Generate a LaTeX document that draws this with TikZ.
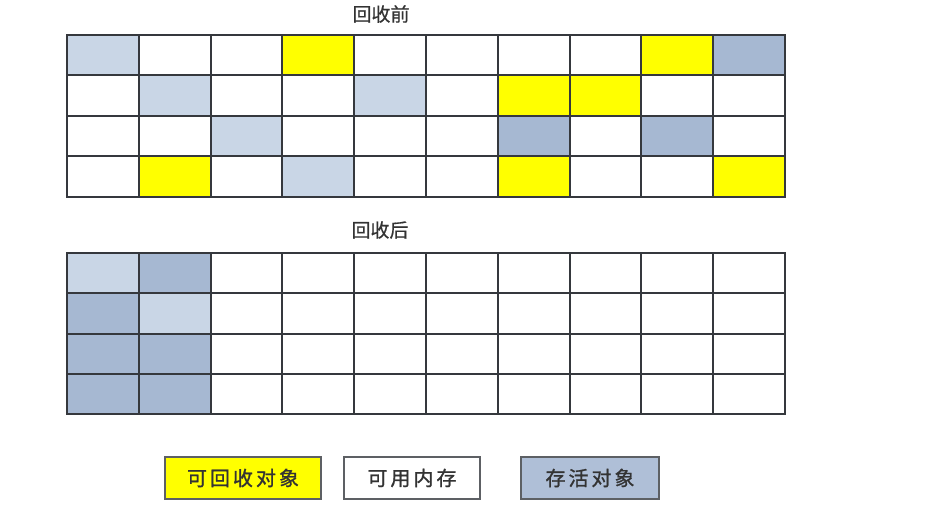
\documentclass[tikz,border=0pt]{standalone}
\usepackage{fontspec}
\newfontfamily\cjk{Noto Sans CJK SC}
\definecolor{recyc}{HTML}{FFFF00}
\definecolor{alivelight}{HTML}{C9D6E6}
\definecolor{alivedark}{HTML}{A6B8D2}
\definecolor{gridline}{HTML}{35383D}
\definecolor{legendtext}{HTML}{333333}
\tikzset{
  cellbox/.style={draw=gridline, line width=1pt},
  heading/.style={font=\cjk\fontsize{9.5}{11}\selectfont\addfontfeature{FakeBold=0.6}, text=legendtext},
  legendbox/.style={draw=gridline!80, line width=0.8pt, minimum width=78pt,
    minimum height=21pt, inner sep=0pt, text=legendtext,
    font=\cjk\fontsize{10}{12}\selectfont\addfontfeature{LetterSpace=15,FakeBold=1.2}}
}
\begin{document}
\begin{tikzpicture}[x=5pt,y=5pt]
    \useasboundingbox (0,0) rectangle (93.4,-51.2);

    % before collection
    \node[heading] (before) at (38.1,-1.4) {回收前};
    \foreach \c/\r/\col in {0/0/alivelight, 3/0/recyc, 8/0/recyc, 9/0/alivedark,
                           1/1/alivelight, 4/1/alivelight, 6/1/recyc, 7/1/recyc,
                           2/2/alivelight, 6/2/alivedark, 8/2/alivedark,
                           1/3/recyc, 3/3/alivelight, 6/3/recyc, 9/3/recyc} {
      \fill[\col] (6.7+\c*7.18,-3.5-\r*4.05) rectangle ++(7.18,-4.05);
    }
    \foreach \c in {0, ..., 9} {
      \foreach \r in {0, ..., 3} {
        \draw[cellbox] (6.7+\c*7.18,-3.5-\r*4.05) rectangle ++(7.18,-4.05);
      }
    }

    % after collection
    \node[heading] (after) at (38.0,-23.0) {回收后};
    \foreach \c/\r/\col in {0/0/alivelight, 1/0/alivedark, 0/1/alivedark, 1/1/alivelight,
                           0/2/alivedark, 1/2/alivedark, 0/3/alivedark, 1/3/alivedark} {
      \fill[\col] (6.7+\c*7.18,-25.3-\r*4.03) rectangle ++(7.18,-4.03);
    }
    \foreach \c in {0, ..., 9} {
      \foreach \r in {0, ..., 3} {
        \draw[cellbox] (6.7+\c*7.18,-25.3-\r*4.03) rectangle ++(7.18,-4.03);
      }
    }

    % legend
    \node[legendbox, fill=recyc] (garbage) at (24.3,-47.8) {可回收对象};
    \node[legendbox, fill=white, minimum width=68pt] (free) at (41.2,-47.8) {可用内存};
    \node[legendbox, fill=alivedark!90, minimum width=69pt] (alive) at (59.0,-47.8) {存活对象};
  \end{tikzpicture}
\end{document}
